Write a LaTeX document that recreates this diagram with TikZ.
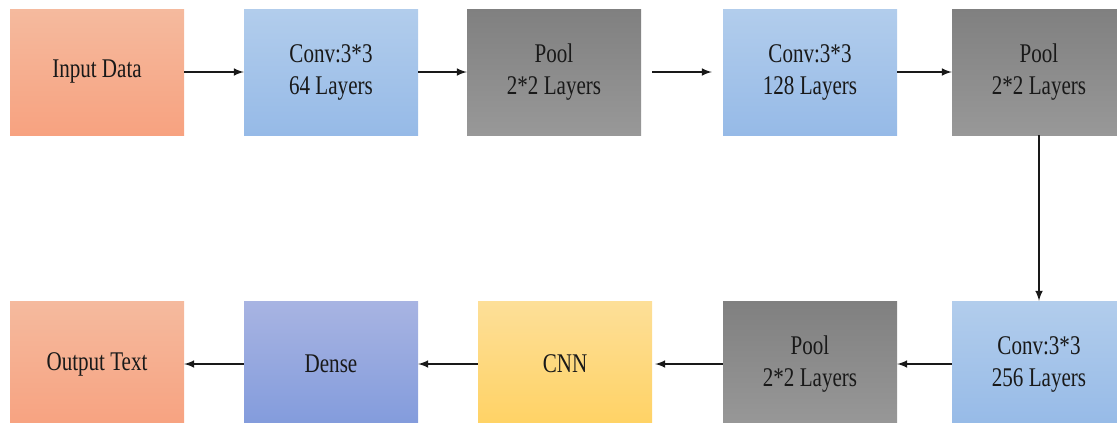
\documentclass[tikz,border=0pt]{standalone}
\usepackage{fontspec}
\newfontfamily\boxfont[FakeStretch=0.78]{Liberation Serif}
\usetikzlibrary{arrows}
\definecolor{salmonTop}{RGB}{245,186,158}
\definecolor{salmonBot}{RGB}{247,162,128}
\definecolor{convTop}{RGB}{178,205,236}
\definecolor{convBot}{RGB}{150,186,231}
\definecolor{poolTop}{RGB}{128,128,128}
\definecolor{poolBot}{RGB}{152,152,152}
\definecolor{denseTop}{RGB}{168,180,226}
\definecolor{denseBot}{RGB}{130,155,220}
\definecolor{cnnTop}{RGB}{253,223,152}
\definecolor{cnnBot}{RGB}{255,210,100}

\begin{document}
\begin{tikzpicture}[x=1pt,y=-1pt,
  box/.style={minimum width=174pt,minimum height=126pt,inner sep=0pt,align=center,
    font=\boxfont\fontsize{27}{32}\selectfont,text=black!90},
  salmon/.style={box,top color=salmonTop,bottom color=salmonBot},
  conv/.style={box,top color=convTop,bottom color=convBot},
  pool/.style={box,top color=poolTop,bottom color=poolBot},
  dense/.style={box,top color=denseTop,bottom color=denseBot},
  cnn/.style={box,top color=cnnTop,bottom color=cnnBot},
  link/.style={-latex,line width=2.4pt,draw=black!90}]
\clip (0,0) rectangle (1117,423);
\path (97,72) node(input)[salmon] {Input Data};
\path (331,72) node(convA)[conv] {Conv:3*3\\64 Layers};
\path (554,72) node(poolA)[pool] {Pool\\2*2 Layers};
\path (810,72) node(convB)[conv] {Conv:3*3\\128 Layers};
\path (1039,72) node(poolB)[pool] {Pool\\2*2 Layers};
\path (1039,364) node(convC)[conv] {Conv:3*3\\256 Layers};
\path (810,364) node(poolC)[pool] {Pool\\2*2 Layers};
\path (565,364) node(cnn)[cnn] {CNN};
\path (331,364) node(dense)[dense] {Dense};
\path (97,364) node(output)[salmon] {Output Text};
\draw[link] (input) -- (convA);
\draw[link] (convA) -- (poolA);
\draw[link,shorten <=11pt,shorten >=11pt] (poolA) -- (convB);
\draw[link] (convB) -- (poolB);
\draw[link] (poolB) -- (convC);
\draw[link] (convC) -- (poolC);
\draw[link,shorten >=3pt] (poolC) -- (cnn);
\draw[link] (cnn) -- (dense);
\draw[link] (dense) -- (output);
\end{tikzpicture}
\end{document}
